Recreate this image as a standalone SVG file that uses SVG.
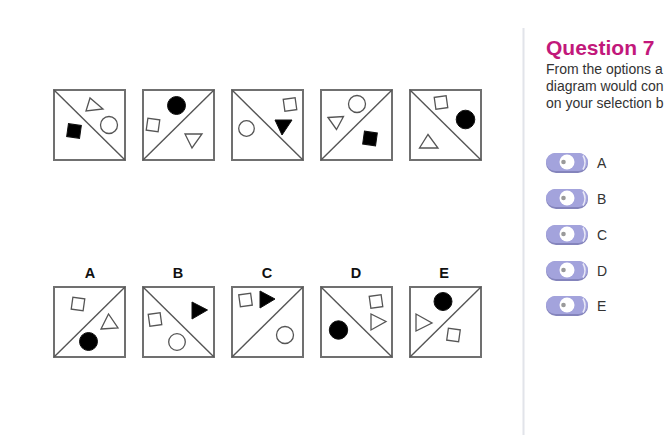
<svg xmlns="http://www.w3.org/2000/svg" width="669" height="435" viewBox="0 0 669 435">
<style>
.frame{fill:#fff;stroke:#707070;stroke-width:2}
.diag{stroke:#555;stroke-width:1.4;fill:none}
.o{fill:#fff;stroke:#555;stroke-width:1.3}
.f{fill:#000;stroke:#111;stroke-width:1}
.lbl{font-family:"Liberation Sans",Arial,sans-serif;font-weight:bold;font-size:14.5px;fill:#111;text-anchor:middle}
.opt{font-family:"Liberation Sans",Arial,sans-serif;font-size:14px;fill:#333}
.body{font-family:"Liberation Sans",Arial,sans-serif;font-size:14px;fill:#333}
</style>
<defs>
<g id="pill">
<rect x="0" y="0" width="42" height="20" rx="10" fill="#8484bc"/>
<rect x="0" y="0" width="42" height="18" rx="9" fill="#a3a3dc"/>
<path d="M37 2.5 Q41 9.5 37 16.5" stroke="#e8e8f6" stroke-width="1.6" fill="none"/>
<circle cx="21" cy="9" r="7.5" fill="#fff"/>
<circle cx="17.5" cy="9" r="2.3" fill="#9a9a9a"/>
</g>
</defs>
<rect width="669" height="435" fill="#fff"/>
<line x1="523.5" y1="28" x2="523.5" y2="435" stroke="#e2e4ea" stroke-width="2"/>

<g id="q1">
<rect class="frame" x="54" y="90" width="71" height="70"/>
<line class="diag" x1="54" y1="90" x2="125" y2="160"/>
<polygon class="o" points="90,98 86,111 103,109"/>
<circle class="o" cx="109" cy="125" r="8.5"/>
<rect class="f" x="67.5" y="124.5" width="13" height="13" transform="rotate(8 74 131)"/>
</g>
<g id="q2">
<rect class="frame" x="143" y="90" width="71" height="70"/>
<line class="diag" x1="143" y1="160" x2="214" y2="90"/>
<circle class="f" cx="176.5" cy="105.5" r="9"/>
<rect class="o" x="147" y="119" width="12" height="12" transform="rotate(8 153 125)"/>
<polygon class="o" points="185,134 202,134 192,148"/>
</g>
<g id="q3">
<rect class="frame" x="232" y="90" width="71" height="70"/>
<line class="diag" x1="232" y1="90" x2="303" y2="160"/>
<rect class="o" x="284" y="98.5" width="12" height="12" transform="rotate(-8 290 104.5)"/>
<polygon class="f" points="275,120 292,120 282,135"/>
<circle class="o" cx="246.5" cy="128.5" r="7.8"/>
</g>
<g id="q4">
<rect class="frame" x="321" y="90" width="71" height="70"/>
<line class="diag" x1="321" y1="160" x2="392" y2="90"/>
<circle class="o" cx="357" cy="104" r="8.5"/>
<polygon class="o" points="328,117.5 343.5,116.5 336.5,129.5"/>
<rect class="f" x="363.5" y="132" width="13" height="13" transform="rotate(8 370 138.5)"/>
</g>
<g id="q5">
<rect class="frame" x="410" y="90" width="71" height="70"/>
<line class="diag" x1="410" y1="90" x2="481" y2="160"/>
<rect class="o" x="435" y="96.5" width="12" height="12" transform="rotate(-8 441 102.5)"/>
<circle class="f" cx="465.5" cy="119.5" r="9.3"/>
<polygon class="o" points="419.5,148 438,148 428,134.5"/>
</g>

<text class="lbl" x="90" y="278">A</text>
<text class="lbl" x="178" y="278">B</text>
<text class="lbl" x="267" y="278">C</text>
<text class="lbl" x="356" y="278">D</text>
<text class="lbl" x="444" y="278">E</text>

<g id="optA">
<rect class="frame" x="54" y="287" width="71" height="70"/>
<line class="diag" x1="54" y1="357" x2="125" y2="287"/>
<rect class="o" x="72" y="298" width="12" height="12" transform="rotate(8 78 304)"/>
<polygon class="o" points="101,329 118,328 108.5,314"/>
<circle class="f" cx="88.5" cy="341.5" r="9"/>
</g>
<g id="optB">
<rect class="frame" x="143" y="287" width="71" height="70"/>
<line class="diag" x1="143" y1="287" x2="214" y2="357"/>
<polygon class="f" points="192,302 192,319 207.5,310"/>
<rect class="o" x="149" y="313.5" width="12" height="12" transform="rotate(-8 155 319.5)"/>
<circle class="o" cx="177" cy="342" r="8.3"/>
</g>
<g id="optC">
<rect class="frame" x="232" y="287" width="71" height="70"/>
<line class="diag" x1="232" y1="357" x2="303" y2="287"/>
<rect class="o" x="239.5" y="294" width="12" height="12" transform="rotate(-8 245.5 300)"/>
<polygon class="f" points="260,291 260,308 275,299"/>
<circle class="o" cx="285" cy="335" r="8.5"/>
</g>
<g id="optD">
<rect class="frame" x="321" y="287" width="71" height="70"/>
<line class="diag" x1="321" y1="287" x2="392" y2="357"/>
<rect class="o" x="370" y="295.5" width="12" height="12" transform="rotate(-8 376 301.5)"/>
<polygon class="o" points="371,314 371,330 386,321.5"/>
<circle class="f" cx="338.5" cy="330" r="9.2"/>
</g>
<g id="optE">
<rect class="frame" x="410" y="287" width="71" height="70"/>
<line class="diag" x1="410" y1="357" x2="481" y2="287"/>
<circle class="f" cx="443" cy="301.5" r="9"/>
<polygon class="o" points="416,314 416,331 432,323"/>
<rect class="o" x="447.5" y="329" width="12" height="12" transform="rotate(8 453.5 335)"/>
</g>

<text x="546" y="55" font-family="Liberation Sans,Arial,sans-serif" font-weight="bold" font-size="21" fill="#c2187b">Question 7</text>
<text class="body" x="546" y="74">From the options a</text>
<text class="body" x="546" y="91">diagram would con</text>
<text class="body" x="546" y="108">on your selection b</text>

<g id="radioA"><use href="#pill" x="546" y="153"/><text class="opt" x="597" y="168">A</text></g>
<g id="radioB"><use href="#pill" x="546" y="189"/><text class="opt" x="597" y="204">B</text></g>
<g id="radioC"><use href="#pill" x="546" y="225"/><text class="opt" x="597" y="240">C</text></g>
<g id="radioD"><use href="#pill" x="546" y="261"/><text class="opt" x="597" y="276">D</text></g>
<g id="radioE"><use href="#pill" x="546" y="296"/><text class="opt" x="597" y="311">E</text></g>
</svg>
